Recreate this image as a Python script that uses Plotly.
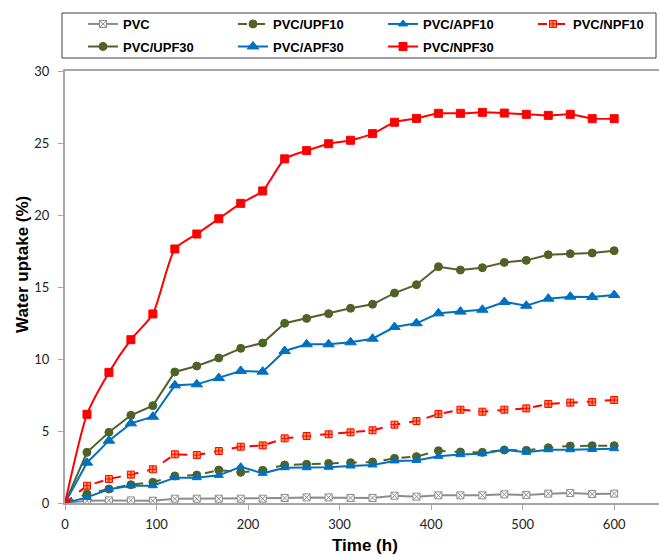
import plotly.graph_objects as go

# Immersion time (h)
time_h = [0, 24, 48, 72, 96, 120, 144, 168, 192, 216, 240, 264, 288,
          312, 336, 360, 384, 408, 432, 456, 480, 504, 528, 552, 576, 600]

# Water uptake (%) for each formulation
pvc = [0, 0.16, 0.18, 0.18, 0.16, 0.30, 0.30, 0.30, 0.30, 0.30, 0.35, 0.39, 0.39,
       0.35, 0.35, 0.51, 0.44, 0.53, 0.53, 0.53, 0.60, 0.56, 0.65, 0.69, 0.62, 0.65]
pvc_upf10 = [0, 0.63, 0.97, 1.27, 1.44, 1.88, 1.94, 2.29, 2.13, 2.27, 2.64, 2.69, 2.75,
             2.80, 2.85, 3.10, 3.22, 3.63, 3.54, 3.52, 3.68, 3.66, 3.84, 3.96, 3.98, 3.98]
pvc_apf10 = [0, 0.39, 0.95, 1.20, 1.20, 1.76, 1.76, 1.92, 2.52, 2.06, 2.45, 2.45, 2.48,
             2.57, 2.64, 2.92, 2.96, 3.24, 3.36, 3.42, 3.70, 3.52, 3.70, 3.70, 3.72, 3.77]
pvc_npf10 = [0, 1.20, 1.67, 1.97, 2.34, 3.38, 3.33, 3.61, 3.91, 4.00, 4.49, 4.65, 4.77,
             4.91, 5.05, 5.44, 5.69, 6.18, 6.48, 6.34, 6.48, 6.57, 6.88, 6.97, 7.01, 7.15]
pvc_upf30 = [0, 3.52, 4.91, 6.09, 6.76, 9.10, 9.51, 10.07, 10.74, 11.11, 12.48, 12.82, 13.15,
             13.52, 13.80, 14.58, 15.16, 16.41, 16.18, 16.34, 16.71, 16.85, 17.24, 17.31, 17.36, 17.52]
pvc_apf30 = [0, 2.80, 4.33, 5.53, 5.99, 8.17, 8.24, 8.68, 9.17, 9.12, 10.56, 11.02, 11.02,
             11.16, 11.41, 12.22, 12.48, 13.17, 13.29, 13.42, 13.96, 13.70, 14.19, 14.33, 14.30, 14.44]
pvc_npf30 = [0, 6.16, 9.07, 11.34, 13.13, 17.64, 18.68, 19.74, 20.81, 21.67, 23.90, 24.47, 24.95,
             25.19, 25.65, 26.44, 26.71, 27.06, 27.06, 27.13, 27.08, 26.99, 26.92, 26.99, 26.69, 26.69]

x_ticks = [0, 100, 200, 300, 400, 500, 600]
y_ticks = [0, 5, 10, 15, 20, 25, 30]

GRAY = "#8c8c8c"
OLIVE = "#4f6228"
BLUE = "#0070c0"
RED = "#ff0000"
ORANGE = "#f79646"

W, H = 659, 557
M_L, M_R, M_T, M_B = 65, 0, 71, 54
PW, PH = W - M_L - M_R, H - M_T - M_B


def py(pix):
    """Paper y for a pixel row measured from the top of the figure."""
    return (H - M_B - pix) / PH


def px(pix):
    """Paper x for a pixel column measured from the left of the figure."""
    return (pix - M_L) / PW


fig = go.Figure()

series = [
    # name, values, line colour, dash, shape, marker symbol, size, fill, outline, legend
    ("PVC", pvc, GRAY, "solid", "linear", "square-x", 7, "white", GRAY, "legend"),
    ("PVC/UPF10", pvc_upf10, OLIVE, "dash", "linear", "circle", 8, OLIVE, OLIVE, "legend"),
    ("PVC/APF10", pvc_apf10, BLUE, "solid", "linear", "triangle-up", 8, BLUE, BLUE, "legend"),
    ("PVC/NPF10", pvc_npf10, RED, "dash", "linear", "square-cross", 7, ORANGE, RED, "legend3"),
    ("PVC/UPF30", pvc_upf30, OLIVE, "solid", "linear", "circle", 8, OLIVE, OLIVE, "legend2"),
    ("PVC/APF30", pvc_apf30, BLUE, "solid", "linear", "triangle-up", 10, BLUE, BLUE, "legend2"),
    ("PVC/NPF30", pvc_npf30, RED, "solid", "spline", "square", 8, RED, RED, "legend2"),
]

for name, vals, col, dash, shape, sym, size, fill, outline, leg in series:
    fig.add_trace(go.Scatter(
        x=time_h, y=vals, name=name, mode="lines+markers",
        line=dict(color=col, width=2, dash=dash, shape=shape, smoothing=0.6),
        marker=dict(symbol=sym, size=size, color=fill,
                    line=dict(color=outline, width=1)),
        legend=leg,
    ))

legend_font = dict(family="Liberation Sans, Arial, sans-serif", size=13,
                   color="black", weight="bold")
legend_common = dict(
    orientation="h", xanchor="left", yanchor="middle",
    entrywidth=105, bgcolor="rgba(0,0,0,0)",
    font=legend_font, borderwidth=0, traceorder="normal",
)

fig.update_layout(
    width=W, height=H,
    margin=dict(l=M_L, r=M_R, t=M_T, b=M_B, autoexpand=False),
    paper_bgcolor="white", plot_bgcolor="white",
    showlegend=True,
    legend=dict(x=px(83), y=py(24), **legend_common),
    legend3=dict(x=px(533), y=py(24), **legend_common),
    legend2=dict(x=px(83), y=py(46.5), **legend_common),
    xaxis=dict(
        range=[0, (W - M_L) / 0.9153], tickvals=x_ticks,
        showline=True, linecolor="#a6a6a6", linewidth=2, mirror=True,
        ticks="outside", ticklen=5, tickcolor="#a6a6a6", tickwidth=1,
        showgrid=False, zeroline=False, ticklabelstandoff=3,
        tickfont=dict(family="Lato, sans-serif", size=13, color="#222"),
    ),
    yaxis=dict(
        range=[0, 30], tickvals=y_ticks,
        showline=True, linecolor="#a6a6a6", linewidth=2,
        ticks="outside", ticklen=5, tickcolor="#a6a6a6", tickwidth=1,
        showgrid=False, zeroline=False, ticklabelstandoff=6,
        tickfont=dict(family="Lato, sans-serif", size=13, color="#222"),
    ),
    annotations=[
        dict(text="<b>Time (h)</b>", xref="paper", yref="paper",
             x=px(365), y=py(545), xanchor="center", yanchor="middle",
             showarrow=False,
             font=dict(family="Liberation Sans, Arial, sans-serif", size=17, color="black")),
        dict(text="<b>Water uptake (%)</b>", xref="paper", yref="paper",
             x=px(22), y=py(265), xanchor="center", yanchor="middle",
             showarrow=False, textangle=-90,
             font=dict(family="Liberation Sans, Arial, sans-serif", size=17, color="black")),
    ],
    shapes=[
        dict(type="rect", xref="paper", yref="paper",
             x0=px(62), x1=px(656), y0=py(58), y1=py(13),
             line=dict(color="#404040", width=1), fillcolor="rgba(0,0,0,0)",
             layer="below"),
    ],
)

fig.write_html("out.html")
